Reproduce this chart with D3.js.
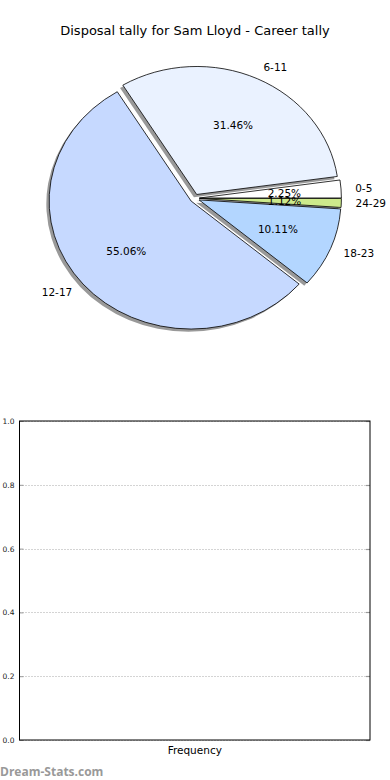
<!DOCTYPE html>
<html>
<head>
<meta charset="utf-8">
<script src="https://cdn.jsdelivr.net/npm/d3@7"></script>
<style>
  html, body { margin: 0; padding: 0; background: #fff; }
  svg { display: block; font-family: "DejaVu Sans", sans-serif; }
</style>
</head>
<body>
<script>
// ---- data ----
const categories = ["0-5", "6-11", "12-17", "18-23", "24-29"];
const values = [2, 28, 49, 9, 1];
const sliceColors = ["#ffffff", "#eaf2ff", "#c6d9ff", "#b3d6ff", "#cdea8c"];
const titleText = "Disposal tally for Sam Lloyd - Career tally";
const yTicks = [0.0, 0.2, 0.4, 0.6, 0.8, 1.0];
const xLabel = "Frequency";
const watermark = "Dream-Stats.com";

const W = 390, H = 780;
const svg = d3.select("body").append("svg").attr("width", W).attr("height", H);

// ---- title ----
svg.append("text").attr("x", 195).attr("y", 30)
  .attr("text-anchor", "middle").attr("dominant-baseline", "central")
  .attr("font-size", 13).attr("fill", "#000").text(titleText);

// ---- pie ----
const cx = 194.7, cy = 198.3, rx = 142, ry = 128;
const sy = ry / rx;
const explode = 4.7;
const shadowOff = 2.8;

const total = d3.sum(values);
const pie = d3.pie().sort(null).value(d => d)
  .startAngle(Math.PI / 2).endAngle(Math.PI / 2 - 2 * Math.PI);
const arcs = pie(values);
const arc = d3.arc().innerRadius(0).outerRadius(rx);

const g = svg.append("g").attr("transform", `translate(${cx},${cy}) scale(1,${sy})`);

function midDir(a) {
  const m = (a.startAngle + a.endAngle) / 2;
  return [Math.sin(m), -Math.cos(m)];
}

// shadows
g.selectAll("path.shadow").data(arcs).enter().append("path")
  .attr("class", "shadow")
  .attr("d", arc)
  .attr("transform", d => { const [dx, dy] = midDir(d); return `translate(${dx * explode - shadowOff},${dy * explode + shadowOff / sy})`; })
  .attr("fill", "#000").attr("fill-opacity", 0.4);

// wedges
g.selectAll("path.wedge").data(arcs).enter().append("path")
  .attr("class", "wedge")
  .attr("d", arc)
  .attr("transform", d => { const [dx, dy] = midDir(d); return `translate(${dx * explode},${dy * explode})`; })
  .attr("fill", (d, i) => sliceColors[i])
  .attr("stroke", "#000").attr("stroke-width", 0.8)
  .attr("vector-effect", "non-scaling-stroke")
  .attr("stroke-linejoin", "round");

// labels
arcs.forEach((d, i) => {
  const [dx, dy] = midDir(d);
  const ox = cx + dx * explode, oy = cy + dy * explode * sy;
  svg.append("text")
    .attr("x", ox + dx * rx * 0.6).attr("y", oy + dy * ry * 0.6)
    .attr("text-anchor", "middle").attr("dominant-baseline", "central")
    .attr("font-size", 10.5).attr("fill", "#000")
    .text((values[i] / total * 100).toFixed(2) + "%");
  svg.append("text")
    .attr("x", ox + dx * rx * 1.1).attr("y", oy + dy * ry * 1.1)
    .attr("text-anchor", dx > 0 ? "start" : "end").attr("dominant-baseline", "central")
    .attr("font-size", 10.5).attr("fill", "#000")
    .text(categories[i]);
});

// ---- bottom empty axes ----
const L = 19.5, R = 370, T = 421, B = 740;
const y = d3.scaleLinear().domain([0, 1]).range([B, T]);

svg.append("g").selectAll("line").data(yTicks).enter().append("line")
  .attr("x1", L).attr("x2", R)
  .attr("y1", d => Math.round(y(d)) + 0.5).attr("y2", d => Math.round(y(d)) + 0.5)
  .attr("stroke", "#a8a8a8").attr("stroke-width", 1).attr("stroke-dasharray", "1,2");

svg.append("g").selectAll("line").data(yTicks).enter().append("line")
  .attr("x1", R - 4).attr("x2", R)
  .attr("y1", d => Math.round(y(d)) + 0.5).attr("y2", d => Math.round(y(d)) + 0.5)
  .attr("stroke", "#999").attr("stroke-width", 1.2);

const yAxis = d3.axisLeft(y).tickValues(yTicks).tickFormat(d3.format(".1f")).tickSize(-4).tickPadding(5);
const ya = svg.append("g").attr("transform", `translate(${L},0)`).call(yAxis);
ya.select(".domain").remove();
ya.selectAll(".tick line").attr("stroke", "#999");
ya.selectAll(".tick text").attr("font-size", 7.5).attr("fill", "#222").attr("font-family", "DejaVu Sans");

svg.append("rect").attr("x", L).attr("y", T).attr("width", R - L).attr("height", B - T)
  .attr("fill", "none").attr("stroke", "#000").attr("stroke-width", 1);

svg.append("text").attr("x", (L + R) / 2).attr("y", 750)
  .attr("text-anchor", "middle").attr("dominant-baseline", "central")
  .attr("font-size", 10.5).attr("fill", "#000").text(xLabel);

svg.append("text").attr("x", 0).attr("y", 771)
  .attr("dominant-baseline", "central")
  .attr("font-size", 12).attr("fill", "#999").attr("font-weight", "bold")
  .attr("font-family", "Open Sans, DejaVu Sans, sans-serif")
  .text(watermark);
</script>
</body>
</html>
